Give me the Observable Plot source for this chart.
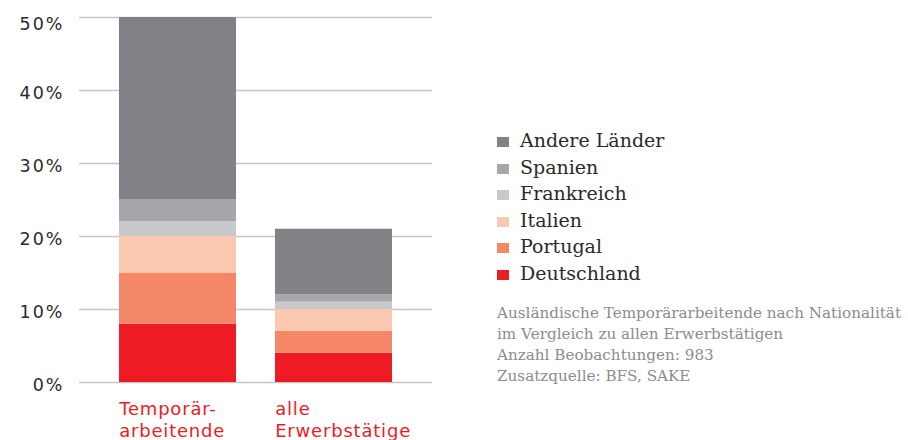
<!DOCTYPE html>
<html><head><meta charset="utf-8">
<script src="https://cdn.jsdelivr.net/npm/d3@7"></script>
<script src="https://cdn.jsdelivr.net/npm/@observablehq/plot@0.6"></script>
<style>
body{margin:0;background:#fff;}
#wrap{position:relative;width:908px;height:440px;overflow:hidden;background:#fff;}
#chart{position:absolute;left:0;top:0;}
#legend{position:absolute;left:497px;top:127px;font-family:"DejaVu Serif",serif;font-size:19px;color:#2a2a2a;}
#legend .row{height:26.6px;line-height:26.6px;white-space:nowrap;}
#legend .sw{display:inline-block;width:12px;height:10px;margin-right:11px;vertical-align:baseline;}
#caption{position:absolute;left:497px;top:302.5px;font-family:"DejaVu Serif",serif;font-size:15.2px;line-height:21.3px;color:#8c8c8c;white-space:nowrap;}
g[aria-label="y-axis tick label"] text{letter-spacing:2px;}
g[aria-label="x-axis tick label"] text{letter-spacing:0.8px;}
</style></head><body>
<div id="wrap"><div id="chart"></div><div id="legend"></div><div id="caption"></div></div>
<script>
const groups = ["Temporärarbeitende", "alle Erwerbstätige"];
const groupLabels = ["Temporär-\narbeitende", "alle\nErwerbstätige"];
const countries = ["Deutschland", "Portugal", "Italien", "Frankreich", "Spanien", "Andere Länder"];
const colors = ["#ed1c24", "#f38767", "#fbc8b1", "#c8c9cb", "#a6a7aa", "#818285"];
const temporaer = [8, 7, 5, 2, 3, 25];
const alleErwerbstaetige = [4, 3, 3, 1, 1, 9];
const yTicks = [0, 10, 20, 30, 40, 50];
const captionLines = [
  "Ausländische Temporärarbeitende nach Nationalität",
  "im Vergleich zu allen Erwerbstätigen",
  "Anzahl Beobachtungen: 983",
  "Zusatzquelle: BFS, SAKE"
];

const seriesByGroup = [temporaer, alleErwerbstaetige];
const rows = groups.flatMap((g, gi) => countries.map((c, ci) => ({group: g, country: c, value: seriesByGroup[gi][ci]})));
const labelOf = new Map(groups.map((g, i) => [g, groupLabels[i]]));

const chart = Plot.plot({
  width: 440, height: 440,
  marginLeft: 79, marginRight: 8, marginTop: 17, marginBottom: 58,
  style: {fontFamily: "DejaVu Sans, sans-serif", background: "#fff"},
  x: {domain: groups, padding: 0.25, axis: null, label: null},
  y: {domain: [0, 50], axis: null, label: null},
  color: {domain: countries, range: colors},
  marks: [
    Plot.gridY(yTicks, {stroke: "#c6c6c6", strokeOpacity: 1, strokeWidth: 1.3}),
    Plot.barY(rows, Plot.stackY({x: "group", y: "value", fill: "country", order: countries})),
    Plot.axisY(yTicks.slice(0, 5), {label: null, tickSize: 0, tickPadding: 15, dy: 2.5, tickFormat: d => d + "%", fontSize: 17.5, fill: "#2a2a2a"}),
    Plot.axisY(yTicks.slice(5), {label: null, tickSize: 0, tickPadding: 15, dy: 7, tickFormat: d => d + "%", fontSize: 17.5, fill: "#2a2a2a"}),
    Plot.axisX(groups, {label: null, tickSize: 0, tickPadding: 17, textAnchor: "start", dx: -58.8, lineHeight: 1.22, fontSize: 18, fill: "#ed1c24", tickFormat: d => labelOf.get(d)})
  ]
});
document.getElementById("chart").appendChild(chart);

const legend = document.getElementById("legend");
countries.map((c, i) => [c, colors[i]]).reverse().forEach(([c, col]) => {
  const row = document.createElement("div");
  row.className = "row";
  const sw = document.createElement("span");
  sw.className = "sw";
  sw.style.background = col;
  row.appendChild(sw);
  row.appendChild(document.createTextNode(c));
  legend.appendChild(row);
});
const cap = document.getElementById("caption");
captionLines.forEach(t => { const d = document.createElement("div"); d.textContent = t; cap.appendChild(d); });
</script>
</body></html>
